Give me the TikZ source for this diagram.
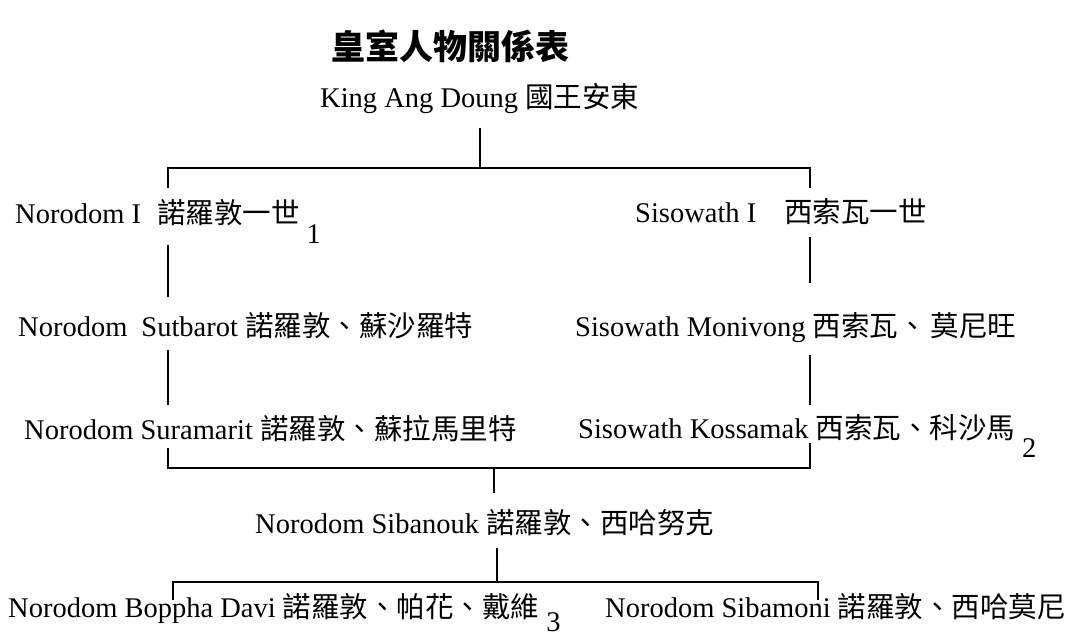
\documentclass[tikz,border=0pt]{standalone}
\usepackage{fontspec}
\setmainfont{Liberation Serif}
\newfontfamily\cjk{Noto Sans CJK TC}
\newcommand\ck[1]{{\cjk\fontsize{28.5}{28.5}\selectfont #1}}
\newcommand\subn[2][-20pt]{\hspace{7pt}\raisebox{#1}{#2}}
\begin{document}
\begin{tikzpicture}[x=1pt,y=-1pt,
  lbl/.style={anchor=base west,inner sep=0pt,font=\fontsize{28.5}{28.5}\selectfont},
  link/.style={draw=black,line width=1.4pt}]
\useasboundingbox[fill=white] (0,0) rectangle (1075,637);
% title
\node[inner sep=0pt,font=\cjk\bfseries\fontsize{34}{34}\selectfont] (title) at (450,46) {皇室人物關係表};
% people
\node[lbl] (king) at (320,107) {King Ang Doung \ck{國王安東}};
\node[lbl] (n1) at (15,223) {Norodom I\hspace{16pt}\ck{諾羅敦一世}\subn{1}};
\node[lbl] (s1) at (635,222) {Sisowath I\hspace{28pt}\ck{西索瓦一世}};
\node[lbl] (nsut) at (18,336) {Norodom\hspace{14pt}Sutbarot \ck{諾羅敦、蘇沙羅特}};
\node[lbl] (smon) at (575,336) {Sisowath Monivong \ck{西索瓦、\hspace{4pt}莫尼旺}};
\node[lbl] (nsur) at (24,439) {Norodom Suramarit \ck{諾羅敦、蘇拉馬里特}};
\node[lbl] (skos) at (578,438) {Sisowath Kossamak \ck{西索瓦、科沙馬}\subn[-19pt]{2}};
\node[lbl] (nsib) at (255,533) {Norodom Sibanouk \ck{諾羅敦、西哈努克}};
\node[lbl] (nbop) at (8,617) {Norodom Boppha Davi \ck{諾羅敦、帕花、戴維}\subn[-14pt]{3}};
\node[lbl] (nsibm) at (605,617) {Norodom Sibamoni \ck{諾羅敦、西哈莫尼}};
% junction coordinates
\coordinate (kb) at (480,128);
\coordinate (j1) at (480,168);
\coordinate (j1l) at (168,168);
\coordinate (j1r) at (810,168);
\coordinate (n1t) at (168,188);
\coordinate (s1t) at (810,188);
\coordinate (n1b) at (168,245);
\coordinate (nsutt) at (168,297);
\coordinate (s1b) at (810,237);
\coordinate (smont) at (810,283);
\coordinate (nsutb) at (168,350);
\coordinate (nsurt) at (168,405);
\coordinate (smonb) at (810,355);
\coordinate (skost) at (810,405);
\coordinate (nsurb) at (168,448);
\coordinate (skosb) at (810,443);
\coordinate (j2l) at (168,468);
\coordinate (j2r) at (810,468);
\coordinate (j2) at (494,468);
\coordinate (nsibt) at (494,493);
\coordinate (nsibb) at (497,548);
\coordinate (j3) at (497,582);
\coordinate (j3l) at (173,582);
\coordinate (j3r) at (818,582);
\coordinate (nbopt) at (173,600);
\coordinate (nsibmt) at (818,600);
% connectors
\draw[link] (kb) -- (j1);
\draw[link] (n1t) -- (j1l) -- (j1r) -- (s1t);
\draw[link] (n1b) -- (nsutt);
\draw[link] (s1b) -- (smont);
\draw[link] (nsutb) -- (nsurt);
\draw[link] (smonb) -- (skost);
\draw[link] (nsurb) -- (j2l) -- (j2r) -- (skosb);
\draw[link] (j2) -- (nsibt);
\draw[link] (nsibb) -- (j3);
\draw[link] (nbopt) -- (j3l) -- (j3r) -- (nsibmt);
\end{tikzpicture}
\end{document}
